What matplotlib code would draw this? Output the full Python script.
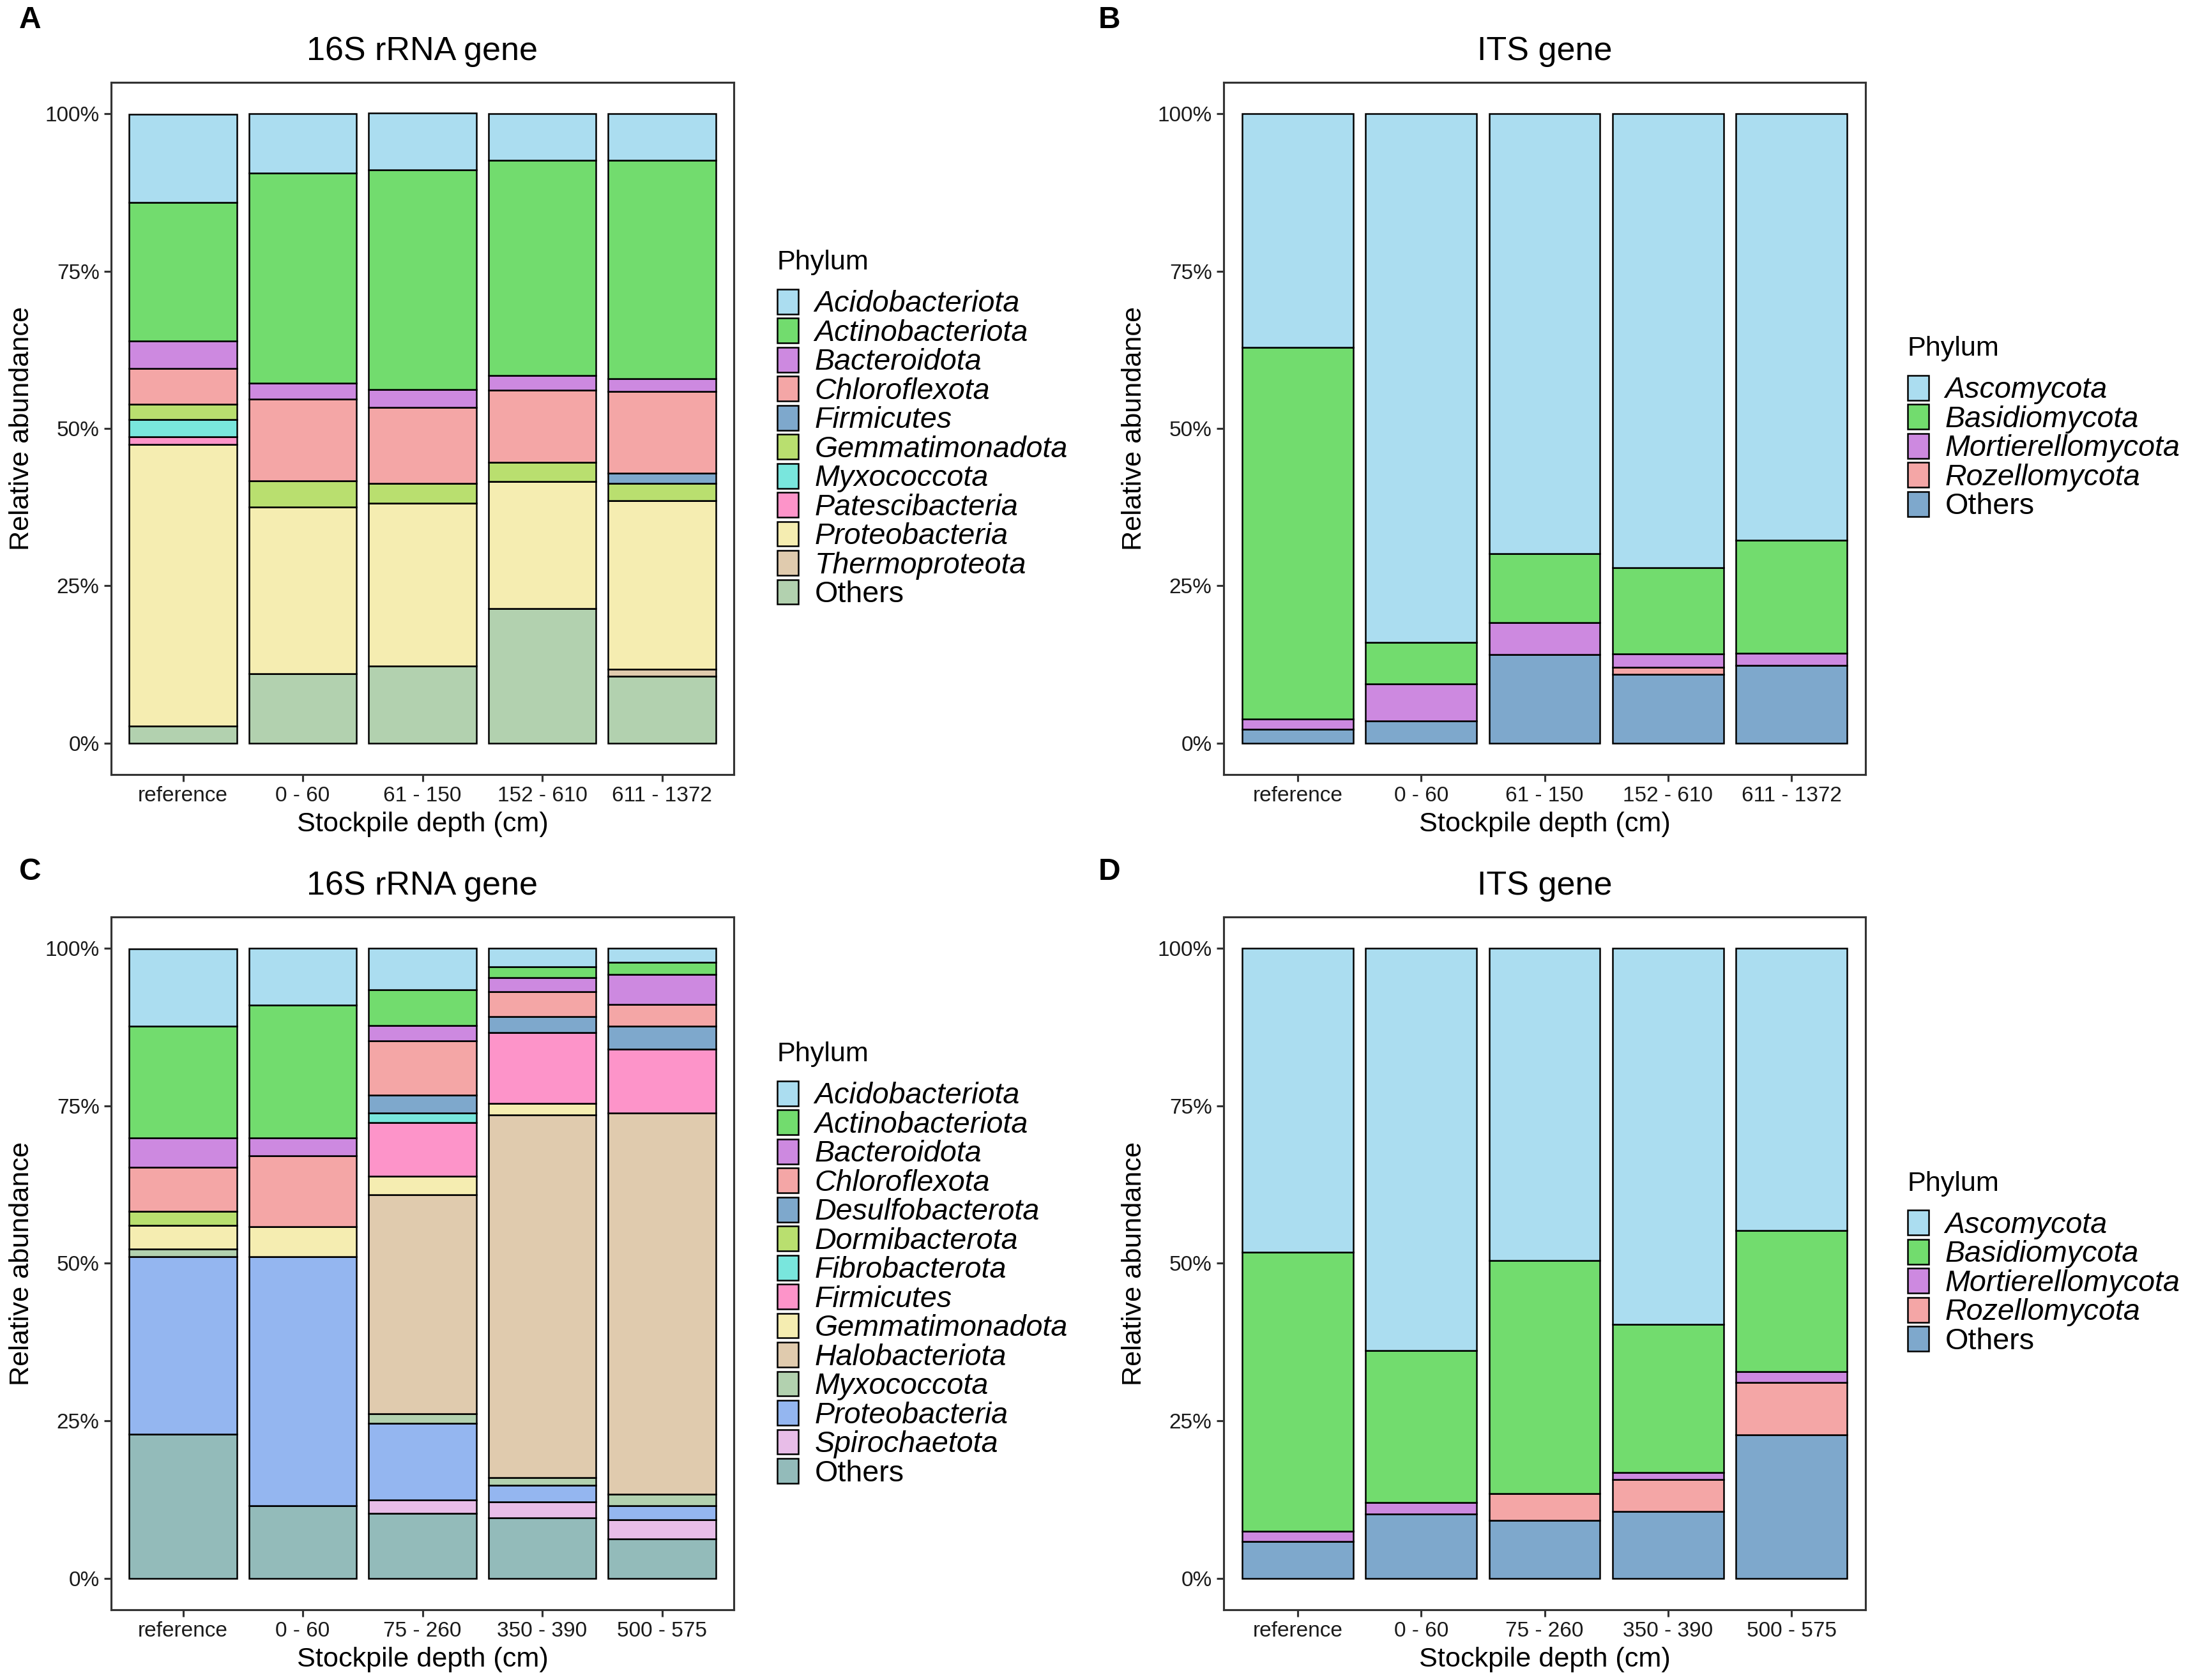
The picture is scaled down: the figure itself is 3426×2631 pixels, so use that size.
import numpy as np
import matplotlib
matplotlib.use('Agg')
from matplotlib import pyplot as plt
from matplotlib.patches import Patch
from matplotlib.ticker import PercentFormatter

plt.rcParams['font.family'] = ['Liberation Sans', 'DejaVu Sans']

# ---- data (relative abundance, %) ----
depths_ab = ['reference', '0 - 60', '61 - 150', '152 - 610', '611 - 1372']
depths_cd = ['reference', '0 - 60', '75 - 260', '350 - 390', '500 - 575']

phyla_a = ['Acidobacteriota', 'Actinobacteriota', 'Bacteroidota', 'Chloroflexota',
           'Firmicutes', 'Gemmatimonadota', 'Myxococcota', 'Patescibacteria',
           'Proteobacteria', 'Thermoproteota', 'Others']
values_a = [
    [14.0, 9.4, 9.0, 7.4, 7.4],
    [22.0, 33.4, 34.9, 34.2, 34.7],
    [4.4, 2.5, 2.9, 2.3, 2.0],
    [5.6, 13.0, 12.0, 11.5, 13.0],
    [0.0, 0.0, 0.0, 0.0, 1.6],
    [2.5, 4.2, 3.2, 3.0, 2.8],
    [2.7, 0.0, 0.0, 0.0, 0.0],
    [1.2, 0.0, 0.0, 0.0, 0.0],
    [44.8, 26.5, 25.8, 20.2, 26.8],
    [0.0, 0.0, 0.0, 0.0, 1.1],
    [2.7, 11.0, 12.3, 21.4, 10.6],
]

phyla_b = ['Ascomycota', 'Basidiomycota', 'Mortierellomycota', 'Rozellomycota', 'Others']
values_b = [
    [37.1, 84.0, 69.9, 72.1, 67.8],
    [59.1, 6.55, 10.9, 13.7, 17.9],
    [1.6, 5.95, 5.1, 2.2, 1.9],
    [0.0, 0.0, 0.0, 1.1, 0.0],
    [2.2, 3.5, 14.1, 10.9, 12.4],
]

phyla_c = ['Acidobacteriota', 'Actinobacteriota', 'Bacteroidota', 'Chloroflexota',
           'Desulfobacterota', 'Dormibacterota', 'Fibrobacterota', 'Firmicutes',
           'Gemmatimonadota', 'Halobacteriota', 'Myxococcota', 'Proteobacteria',
           'Spirochaetota', 'Others']
values_c = [
    [12.3, 9.0, 6.6, 2.9, 2.2],
    [17.7, 21.1, 5.6, 1.7, 1.9],
    [4.65, 2.8, 2.45, 2.3, 4.8],
    [7.0, 11.3, 8.65, 3.9, 3.4],
    [0.0, 0.0, 2.8, 2.6, 3.7],
    [2.3, 0.0, 0.0, 0.0, 0.0],
    [0.0, 0.0, 1.5, 0.0, 0.0],
    [0.0, 0.0, 8.6, 11.2, 10.1],
    [3.7, 4.7, 2.9, 1.8, 0.0],
    [0.0, 0.0, 34.8, 57.6, 60.6],
    [1.2, 0.0, 1.5, 1.2, 1.8],
    [28.2, 39.6, 12.2, 2.65, 2.2],
    [0.0, 0.0, 2.1, 2.55, 3.0],
    [22.9, 11.5, 10.3, 9.6, 6.3],
]

phyla_d = ['Ascomycota', 'Basidiomycota', 'Mortierellomycota', 'Rozellomycota', 'Others']
values_d = [
    [48.2, 63.8, 49.5, 59.7, 44.8],
    [44.3, 24.2, 37.0, 23.5, 22.4],
    [1.7, 1.8, 0.0, 1.1, 1.7],
    [0.0, 0.0, 4.3, 5.05, 8.3],
    [5.8, 10.2, 9.2, 10.65, 22.8],
]

palette = ['#ABDDF0', '#72DC6E', '#CD89E0', '#F4A6A6', '#7EA8CC', '#B9DF6F', '#79E6DD',
           '#FD94C9', '#F5EDB1', '#E0CBAE', '#B2D1AF', '#94B6F0', '#E8BDE8', '#93BBBA']

W, H = 3426, 2631
DPI = 300
fig = plt.figure(figsize=(W / DPI, H / DPI), dpi=DPI)


def px_axes(left, top, right, bottom):
    return fig.add_axes([left / W, 1 - bottom / H, (right - left) / W, (bottom - top) / H])


def draw_panel(ax, depths, phyla, values, title, letter, letter_xy, key_left):
    x = np.arange(len(depths))
    vals = np.array(values)
    bottom = np.zeros(len(depths))
    # ggplot stacks the first level on top -> draw from the last one upward
    for i in range(len(phyla) - 1, -1, -1):
        ax.bar(x, vals[i], bottom=bottom, width=0.9, color=palette[i],
               edgecolor='black', linewidth=0.6)
        bottom += vals[i]

    ax.set_xlim(-0.6, len(depths) - 0.4)
    ax.set_ylim(-5, 105)
    ax.set_xticks(x)
    ax.set_xticklabels(depths)
    ax.set_yticks([0, 25, 50, 75, 100])
    ax.yaxis.set_major_formatter(PercentFormatter(xmax=100, decimals=0))
    ax.tick_params(axis='both', length=2.6, width=0.75, color='#333333',
                   labelsize=8, labelcolor='#1a1a1a', pad=1.8)
    for sp in ax.spines.values():
        sp.set_color('#333333')
        sp.set_linewidth(0.75)
    ax.set_xlabel('Stockpile depth (cm)', fontsize=10.4, labelpad=2)
    ax.set_ylabel('Relative abundance', fontsize=10.4, labelpad=4)
    ax.set_title(title, fontsize=12.5, pad=8.4)
    fig.text(letter_xy[0] / W, 1 - letter_xy[1] / H, letter, fontsize=11.5,
             fontweight='bold', ha='center', va='center')

    # legend, centred vertically on the panel like ggplot does
    bb = ax.get_position()
    center = (1 - (bb.y0 + bb.y1) / 2) * H
    n = len(phyla)
    keys_top = center - (45 * n - 59) / 2
    fig.text(key_left / W, 1 - (keys_top - 42) / H, 'Phylum', fontsize=10.4,
             ha='left', va='center')
    handles = [Patch(facecolor=palette[i], edgecolor='black', linewidth=0.6)
               for i in range(n)]
    leg = ax.legend(handles, phyla, loc='upper left',
                    bbox_to_anchor=(key_left / W, 1 - keys_top / H),
                    bbox_transform=fig.transFigure, frameon=False, fontsize=11.2,
                    borderpad=0, borderaxespad=0, handlelength=0.7,
                    handleheight=0.9, labelspacing=0, handletextpad=0.55)
    for t in leg.get_texts():
        if t.get_text() != 'Others':
            t.set_fontstyle('italic')


ax_a = px_axes(174, 129, 1149, 1213)
ax_b = px_axes(1916, 129, 2921, 1213)
ax_c = px_axes(174, 1436, 1149, 2521)
ax_d = px_axes(1916, 1436, 2921, 2521)

draw_panel(ax_a, depths_ab, phyla_a, values_a, '16S rRNA gene', 'A', (47, 32), 1217)
draw_panel(ax_b, depths_ab, phyla_b, values_b, 'ITS gene', 'B', (1737, 32), 2987)
draw_panel(ax_c, depths_cd, phyla_c, values_c, '16S rRNA gene', 'C', (47, 1365), 1217)
draw_panel(ax_d, depths_cd, phyla_d, values_d, 'ITS gene', 'D', (1737, 1365), 2987)

fig.savefig('out.png', dpi=DPI)
